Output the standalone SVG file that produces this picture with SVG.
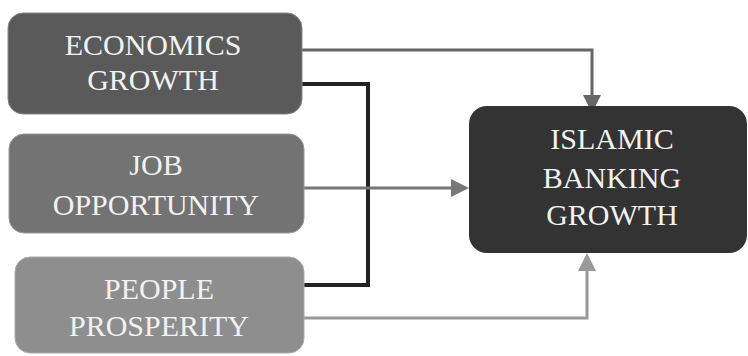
<svg xmlns="http://www.w3.org/2000/svg" width="748" height="356" viewBox="0 0 748 356">
<style>
.t{font-family:"Liberation Serif","Times New Roman",serif;font-size:30px;fill:#f2f2f2;text-anchor:middle}
.c{fill:none;stroke-linejoin:miter}
</style>
<defs>
<marker id="a1" markerWidth="6" markerHeight="6" refX="3" refY="3" orient="auto" markerUnits="strokeWidth"><path d="M0,0L6,3L0,6z" fill="#666"/></marker>
<marker id="a2" markerWidth="6" markerHeight="6" refX="3" refY="3" orient="auto" markerUnits="strokeWidth"><path d="M0,0L6,3L0,6z" fill="#777"/></marker>
<marker id="a3" markerWidth="6" markerHeight="6" refX="3" refY="3" orient="auto" markerUnits="strokeWidth"><path d="M0,0L6,3L0,6z" fill="#999"/></marker>
</defs>
<rect width="748" height="356" fill="#fff"/>
<g id="connectors">
<path class="c" d="M302,50H592V104" stroke="#666" stroke-width="3" marker-end="url(#a1)"/>
<path class="c" d="M302,84H368V285H304" stroke="#222" stroke-width="4"/>
<path class="c" d="M304,188H460" stroke="#777" stroke-width="3" marker-end="url(#a2)"/>
<path class="c" d="M304,318H587V262" stroke="#999" stroke-width="3" marker-end="url(#a3)"/>
</g>
<g id="economics">
<rect x="8" y="13" width="294" height="101" rx="15" fill="#5a5a5a" stroke="#888" stroke-width="1"/>
<text class="t" x="153" y="55">ECONOMICS</text>
<text class="t" x="153" y="90">GROWTH</text>
</g>
<g id="job">
<rect x="9" y="134" width="295" height="99" rx="15" fill="#737373" stroke="#999" stroke-width="1"/>
<text class="t" x="156" y="175">JOB</text>
<text class="t" x="156" y="215">OPPORTUNITY</text>
</g>
<g id="people">
<rect x="15" y="257" width="289" height="96" rx="15" fill="#8e8e8e" stroke="#aaa" stroke-width="1"/>
<text class="t" x="159" y="299">PEOPLE</text>
<text class="t" x="159" y="336">PROSPERITY</text>
</g>
<g id="islamic">
<rect x="469" y="106" width="278" height="147" rx="18" fill="#333"/>
<text class="t" x="612" y="149">ISLAMIC</text>
<text class="t" x="612" y="188">BANKING</text>
<text class="t" x="612" y="225">GROWTH</text>
</g>
</svg>
